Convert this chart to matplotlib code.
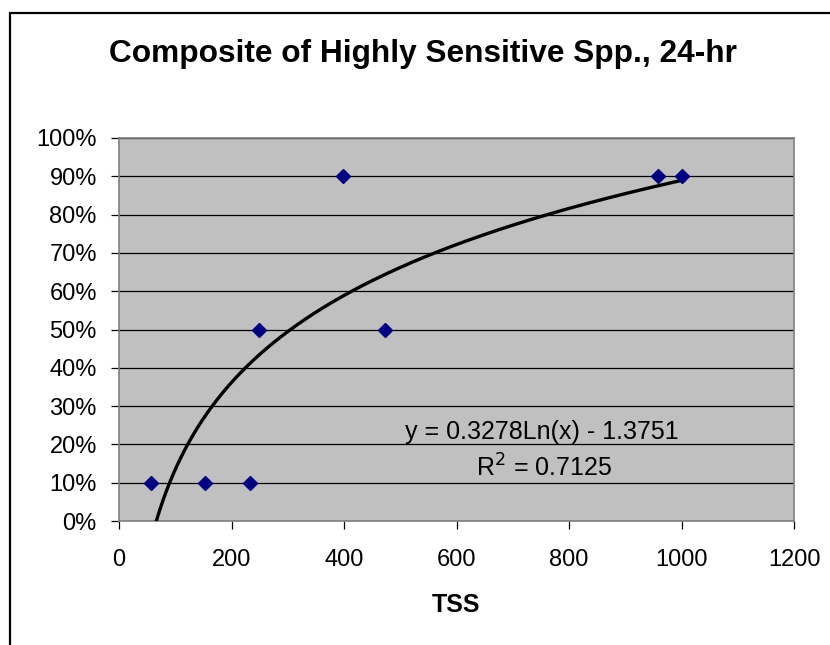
import numpy as np
import matplotlib.pyplot as plt
from matplotlib.patches import Rectangle
from matplotlib.ticker import PercentFormatter

# data
tss = [57, 153, 232, 249, 398, 473, 959, 1001]
pct = [0.10, 0.10, 0.10, 0.50, 0.90, 0.50, 0.90, 0.90]
slope = 0.3278
intercept = -1.3751
r2 = 0.7125

plt.rcParams['font.family'] = ['Liberation Sans', 'DejaVu Sans']

W, H = 830, 645
fig = plt.figure(figsize=(W / 100, H / 100), dpi=100)
fig.patches.append(Rectangle((10 / W, -0.1), 1.0, 1 - 12.5 / H + 0.1, transform=fig.transFigure,
                             fill=False, edgecolor='black', linewidth=1.6))

ax = fig.add_axes([119 / W, 1 - 521 / H, (794 - 119) / W, (521 - 138) / H])
ax.set_facecolor('#c0c0c0')

# log trendline, clipped at 0 like excel
x0 = np.exp(-intercept / slope)
xs = np.linspace(x0, max(tss), 300)
ax.plot(xs, slope * np.log(xs) + intercept, color='black', lw=2.4, zorder=3)
ax.plot(tss, pct, linestyle='none', marker='D', markersize=7.5, color='#000080', zorder=4)

ax.set_xlim(0, 1200)
ax.set_ylim(0, 1.0)
ax.set_xticks(range(0, 1201, 200))
ax.set_yticks(np.arange(0, 1.01, 0.1))
ax.yaxis.set_major_formatter(PercentFormatter(1.0, decimals=0))
ax.grid(axis='y', color='black', lw=0.9)
ax.set_axisbelow(True)
for s in ax.spines.values():
    s.set_color('#808080')
    s.set_linewidth(1.2)
ax.tick_params(axis='both', direction='out', length=6, width=0.9, color='black', labelsize=17)
ax.tick_params(axis='x', pad=14)
ax.tick_params(axis='y', pad=10)

fig.text(541.7 / W, 1 - 431.7 / H, 'y = 0.3278Ln(x) - 1.3751', fontsize=18, ha='center', va='center')
fig.text(543.7 / W, 1 - 468 / H, 'R$^2$ = %.4f' % r2, fontsize=18, ha='center', va='center')

fig.text(423 / W, 1 - 54 / H, 'Composite of Highly Sensitive Spp., 24-hr', fontsize=22.8,
         fontweight='bold', ha='center', va='center')
fig.text(456 / W, 1 - 605 / H, 'TSS', fontsize=18, fontweight='bold', ha='center', va='center')

fig.savefig('out.png', dpi=100)
